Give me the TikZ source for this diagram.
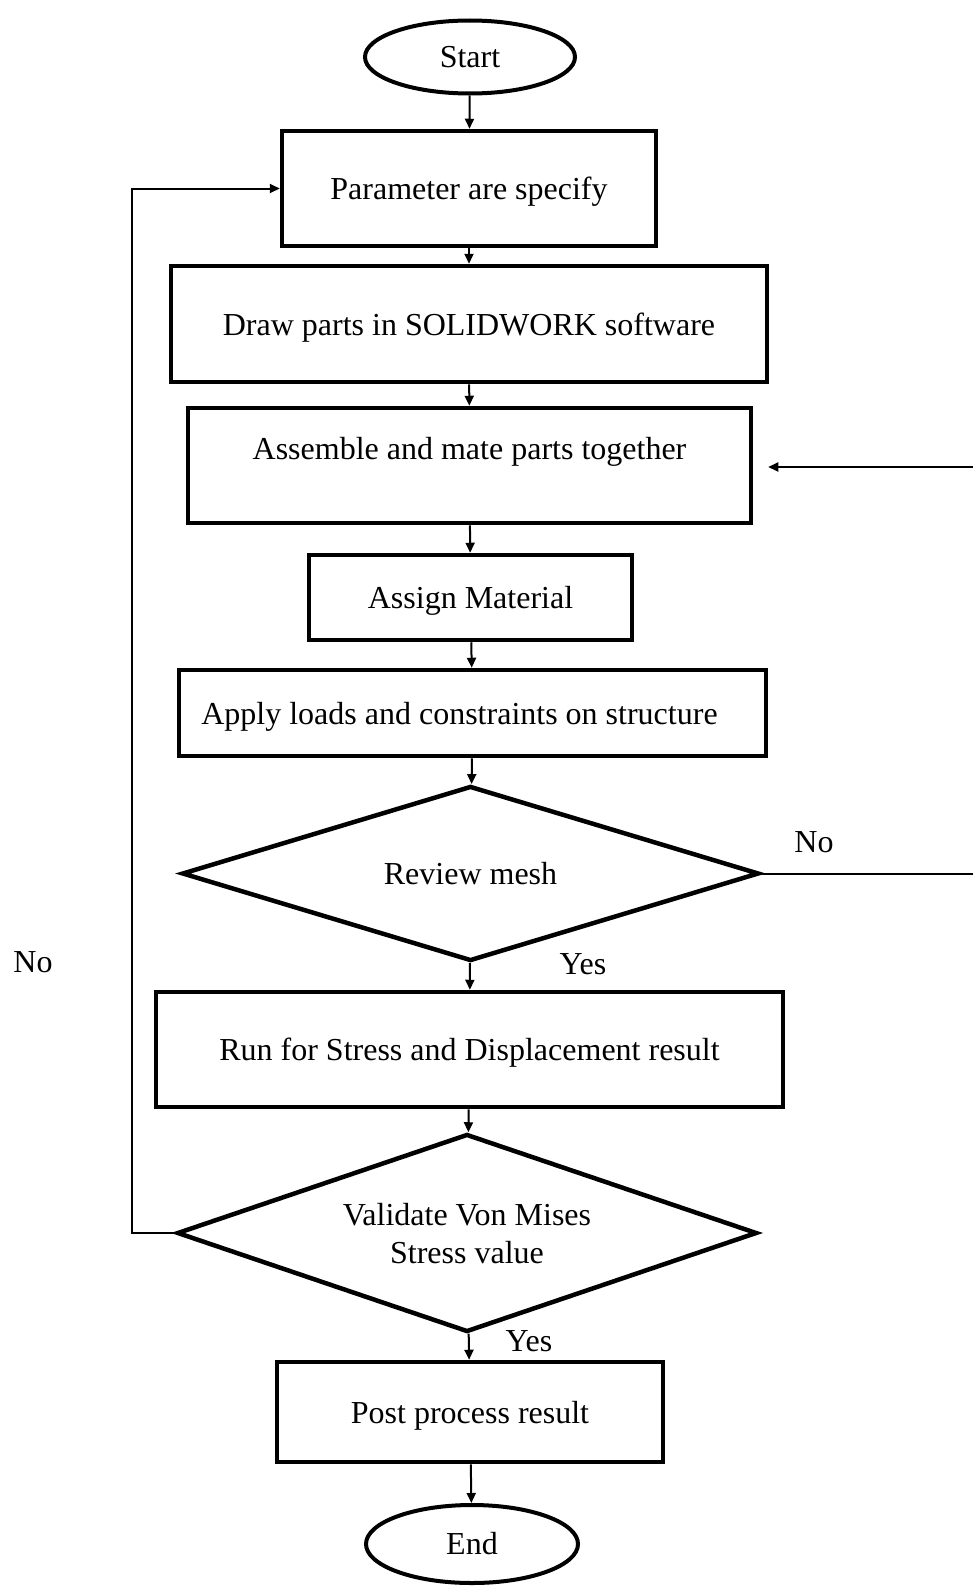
\documentclass[tikz,border=0pt]{standalone}
\usepackage{fontspec}
\setmainfont{Liberation Serif}
\usepackage{tikz}
\usetikzlibrary{shapes.geometric, arrows.meta, positioning}

\tikzset{
  procbox/.style={draw, line width=4.5pt, rectangle, inner sep=0pt, text depth=0pt},
  termbox/.style={draw, line width=4pt, ellipse, inner sep=0pt},
  decbox/.style={draw, line width=4.5pt, diamond, inner sep=0pt, align=center, text depth=0pt},
  arr/.style={line width=2pt, -{Triangle[length=10pt,width=9pt]}},
  lin/.style={line width=2pt}
}

\begin{document}
\begin{tikzpicture}[x=1pt, y=-1pt, font=\fontsize{32}{38}\selectfont]
\useasboundingbox (0,0) rectangle (973,1587);

% Terminals
\node[termbox, minimum width=210pt, minimum height=73pt] (start) at (470,57) {Start};
\node[termbox, minimum width=212pt, minimum height=78pt] (end) at (472,1544) {End};

% Process steps
\node[procbox, minimum width=374pt, minimum height=115pt] (par) at (469,188.5) {Parameter are specify};
\node[procbox, minimum width=596pt, minimum height=116pt] (drw) at (469,324) {Draw parts in SOLIDWORK software};
\node[procbox, minimum width=563pt, minimum height=115pt,
      label={[anchor=north, yshift=-28pt]north:Assemble and mate parts together}] (asm) at (469.5,465.5) {};
\node[procbox, minimum width=323pt, minimum height=85pt] (asg) at (470.5,597.5) {Assign Material};
\node[procbox, minimum width=587pt, minimum height=86pt] (app) at (472.5,713) {\hspace*{-26pt}Apply loads and constraints on structure};
\node[decbox, shape aspect=3.3, minimum width=577pt, minimum height=175pt] (rev) at (470.5,873.5) {Review mesh};
\node[procbox, minimum width=627pt, minimum height=115pt] (run) at (469.5,1049.5) {Run for Stress and Displacement result};
\node[decbox, shape aspect=2.9, minimum width=580pt, minimum height=198pt] (val) at (467,1233) {Validate Von Mises\\Stress value};
\node[procbox, minimum width=386pt, minimum height=100pt] (post) at (470,1412) {Post process result};

% Main flow
\draw[arr] (start) -- (par);
\draw[arr] (par) -- (drw);
\draw[arr] (drw) -- (asm);
\draw[arr] (asm) -- (asg);
\draw[arr] (asg) -- (app);
\draw[arr] (app) -- (rev);
\draw[arr] (rev) -- (run);
\draw[arr] (run) -- (val);
\draw[arr] (val) -- (post);
\draw[arr] (post) -- (end);

% Feedback loops
\coordinate (loopL) at (132,1233);
\draw[arr] (val.west) -- (loopL) |- (par.west);
\coordinate (revR) at (973,873.5);
\draw[lin] (rev.east) -- (revR);
\coordinate (asmR) at (973,467);
\draw[arr, shorten >=15pt] (asmR) -- (asm.east |- asmR);

% Labels
\node (noL) at (33,962) {No};
\node (noR) at (814,842) {No};
\node (yesA) at (583,964) {Yes};
\node (yesB) at (529,1341) {Yes};
\end{tikzpicture}
\end{document}
